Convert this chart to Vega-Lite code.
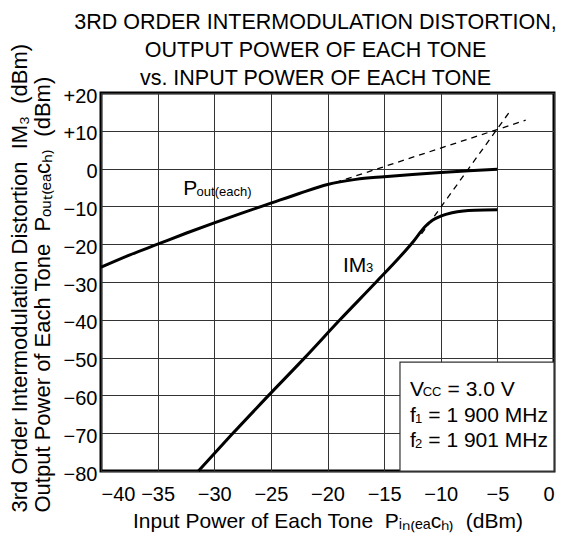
{
  "$schema": "https://vega.github.io/schema/vega-lite/v6.json",
  "width": 453,
  "height": 378,
  "autosize": {"type": "none"},
  "padding": {"left": 101, "top": 93, "right": 12, "bottom": 63},
  "background": "white",
  "view": {"stroke": "black", "strokeWidth": 3},
  "config": {
    "font": "Liberation Sans",
    "axis": {
      "labelFont": "Liberation Sans",
      "titleFont": "Liberation Sans",
      "labelColor": "black",
      "titleColor": "black",
      "titleFontWeight": "normal",
      "domain": false,
      "ticks": false,
      "grid": true,
      "labelOverlap": false,
      "gridColor": "#333",
      "gridOpacity": 1,
      "gridWidth": 1
    }
  },
  "title": {
    "text": ["3RD ORDER INTERMODULATION DISTORTION,", "OUTPUT POWER OF EACH TONE", "vs. INPUT POWER OF EACH TONE"],
    "font": "Liberation Sans",
    "fontSize": 21.5,
    "fontWeight": "normal",
    "color": "black",
    "lineHeight": 28,
    "anchor": "middle",
    "dx": -12,
    "dy": 52,
    "offset": 6
  },
  "datasets": {
    "curves": [
      {"s": "Pout", "x": -40, "y": -26.1},
      {"s": "Pout", "x": -37.5, "y": -22.9},
      {"s": "Pout", "x": -35, "y": -20.0},
      {"s": "Pout", "x": -32.5, "y": -17.1},
      {"s": "Pout", "x": -30, "y": -14.35},
      {"s": "Pout", "x": -27.5, "y": -11.7},
      {"s": "Pout", "x": -25, "y": -9.15},
      {"s": "Pout", "x": -22.5, "y": -6.6},
      {"s": "Pout", "x": -20, "y": -4.2},
      {"s": "Pout", "x": -17.5, "y": -2.85},
      {"s": "Pout", "x": -15, "y": -2.15},
      {"s": "Pout", "x": -12.5, "y": -1.55},
      {"s": "Pout", "x": -10, "y": -1.05},
      {"s": "Pout", "x": -7.5, "y": -0.6},
      {"s": "Pout", "x": -5, "y": -0.2},
      {"s": "IM3", "x": -31.4, "y": -80},
      {"s": "IM3", "x": -28.5, "y": -70.5},
      {"s": "IM3", "x": -25.2, "y": -60},
      {"s": "IM3", "x": -22.0, "y": -50},
      {"s": "IM3", "x": -18.9, "y": -40},
      {"s": "IM3", "x": -15.7, "y": -30},
      {"s": "IM3", "x": -13.5, "y": -23.0},
      {"s": "IM3", "x": -12.4, "y": -19.2},
      {"s": "IM3", "x": -11.4, "y": -15.4},
      {"s": "IM3", "x": -10.7, "y": -13.6},
      {"s": "IM3", "x": -10.0, "y": -12.6},
      {"s": "IM3", "x": -9.0, "y": -11.7},
      {"s": "IM3", "x": -8.0, "y": -11.2},
      {"s": "IM3", "x": -7.0, "y": -11.0},
      {"s": "IM3", "x": -5.0, "y": -10.9}
    ],
    "dashed": [
      {"s": "Pout", "x": -19.3, "y": -3.7},
      {"s": "Pout", "x": -2.5, "y": 12.8},
      {"s": "IM3", "x": -11.7, "y": -17.3},
      {"s": "IM3", "x": -4.0, "y": 14.7}
    ],
    "box": [{"x": -13.6, "x2": 0, "y": -51.2, "y2": -80}],
    "big": [
      {"t": "P", "x": -32.73, "y": -6.98},
      {"t": "IM", "x": -18.63, "y": -27.28},
      {"t": "V", "x": -12.71, "y": -60.2},
      {"t": "= 3.0 V", "x": -9.4, "y": -60.2},
      {"t": "f", "x": -12.71, "y": -67.0},
      {"t": "= 1 900 MHz", "x": -11.1, "y": -67.0},
      {"t": "f", "x": -12.71, "y": -73.6},
      {"t": "= 1 901 MHz", "x": -11.1, "y": -73.6}
    ],
    "small": [
      {"t": "out(each)", "x": -31.56, "y": -7.2},
      {"t": "3", "x": -16.59, "y": -27.28},
      {"t": "CC", "x": -11.6, "y": -60.2},
      {"t": "1", "x": -12.27, "y": -67.4},
      {"t": "2", "x": -12.27, "y": -74.0}
    ]
  },
  "encoding": {
    "x": {
      "field": "x", "type": "quantitative",
      "scale": {"domain": [-40, 0], "nice": false},
      "axis": {
        "values": [-40, -35, -30, -25, -20, -15, -10, -5, 0],
        "grid": true,
        "labelExpr": "datum.value < 0 ? '\u2212' + abs(datum.value) : '' + datum.value",
        "labelFontSize": 20,
        "labelPadding": 13,
        "title": "Input Power of Each Tone\u00a0\u00a0P\u1d62\u2099\u208d\u2091\u2090\u1d04\u2095\u208e\u00a0\u00a0(dBm)",
        "titleFontSize": 21,
        "titleBaseline": "alphabetic",
        "titleY": 56
      }
    },
    "y": {
      "field": "y", "type": "quantitative",
      "scale": {"domain": [-80, 20], "nice": false},
      "axis": {
        "values": [-80, -70, -60, -50, -40, -30, -20, -10, 0, 10, 20],
        "tickCount": 11,
        "grid": true,
        "labelFlush": false,
        "labelExpr": "datum.value > 0 ? '+' + datum.value : (datum.value < 0 ? '\u2212' + abs(datum.value) : '0')",
        "labelFontSize": 20,
        "labelPadding": 4,
        "labelOffset": 3,
        "title": ["3rd Order Intermodulation Distortion\u00a0\u00a0IM\u2083\u00a0\u00a0(dBm)", "Output Power of Each Tone\u00a0\u00a0P\u2092\u1d64\u209c\u208d\u2091\u2090\u1d04\u2095\u208e\u00a0\u00a0(dBm)"],
        "titleFontSize": 22,
        "titleLineHeight": 23,
        "titleAlign": "left",
        "titleX": -70,
        "titleY": 419
      }
    }
  },
  "layer": [
    {
      "data": {"name": "box"},
      "mark": {"type": "rect", "fill": "white", "stroke": "#333", "strokeWidth": 1.2},
      "encoding": {
        "x2": {"field": "x2"},
        "y2": {"field": "y2"}
      }
    },
    {
      "data": {"name": "curves"},
      "mark": {"type": "line", "color": "black", "strokeWidth": 3, "interpolate": "monotone"},
      "encoding": {
        "detail": {"field": "s"}
      }
    },
    {
      "data": {"name": "dashed"},
      "mark": {"type": "line", "color": "black", "strokeWidth": 1.3, "strokeDash": [6, 5]},
      "encoding": {
        "detail": {"field": "s"}
      }
    },
    {
      "data": {"name": "big"},
      "mark": {"type": "text", "align": "left", "baseline": "alphabetic", "fontSize": 21, "color": "black", "font": "Liberation Sans"},
      "encoding": {
        "text": {"field": "t"}
      }
    },
    {
      "data": {"name": "small"},
      "mark": {"type": "text", "align": "left", "baseline": "alphabetic", "fontSize": 13, "color": "black", "font": "Liberation Sans"},
      "encoding": {
        "text": {"field": "t"}
      }
    }
  ]
}
